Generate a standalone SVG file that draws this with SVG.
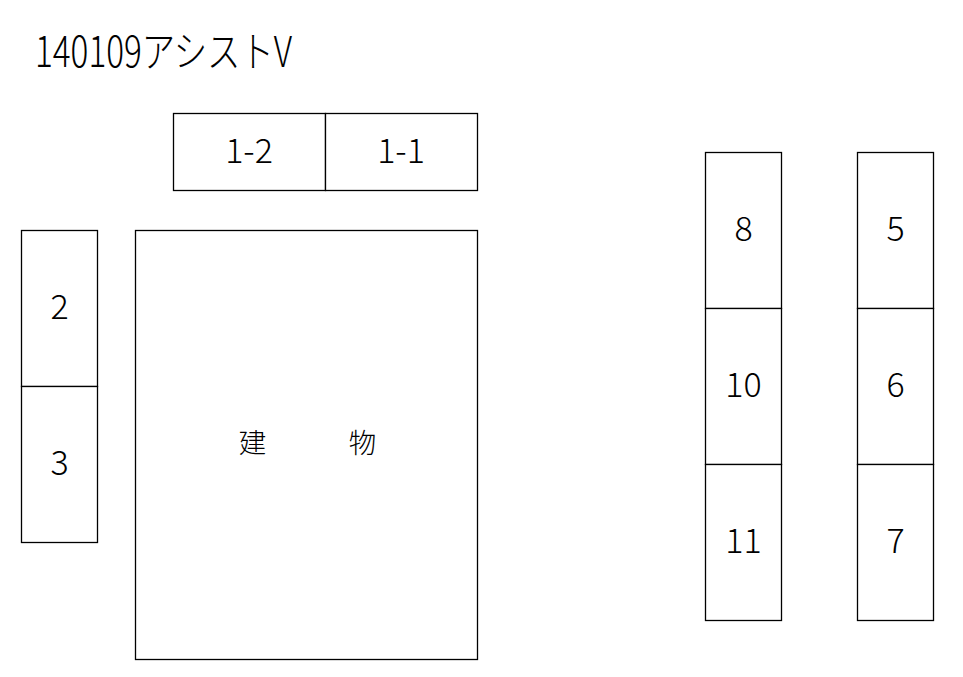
<svg xmlns="http://www.w3.org/2000/svg" width="963" height="677" viewBox="0 0 963 677">
<style>
.b{fill:#fff;stroke:#000;stroke-width:1.3}
.t{font-family:"Noto Sans CJK JP","Liberation Sans",sans-serif;font-weight:300;font-size:34px;fill:#000;text-anchor:middle}
.c{font-family:"Noto Sans CJK JP",sans-serif;font-size:27.5px;fill:#000;text-anchor:middle;font-weight:300}
</style>
<rect width="963" height="677" fill="#fff"/>
<text x="35" y="67" font-family="Noto Sans CJK JP, sans-serif" font-weight="300" font-size="42" textLength="257" lengthAdjust="spacingAndGlyphs">140109アシストV</text>
<g id="n1-2"><rect class="b" x="173.5" y="113.5" width="152" height="77"/><text class="t" x="249" y="163">1-2</text></g>
<g id="n1-1"><rect class="b" x="325.5" y="113.5" width="152" height="77"/><text class="t" x="401" y="163">1-1</text></g>
<g id="building"><rect class="b" x="135.5" y="230.5" width="342" height="429"/><text class="c" x="307.5" y="453">建　　　物</text></g>
<g id="n2"><rect class="b" x="21.5" y="230.5" width="76" height="156"/><text class="t" x="59.5" y="319">2</text></g>
<g id="n3"><rect class="b" x="21.5" y="386.5" width="76" height="156"/><text class="t" x="59.5" y="475">3</text></g>
<g id="n8"><rect class="b" x="705.5" y="152.5" width="76" height="156"/><text class="t" x="743.5" y="241">8</text></g>
<g id="n10"><rect class="b" x="705.5" y="308.5" width="76" height="156"/><text class="t" x="743.5" y="397">10</text></g>
<g id="n11"><rect class="b" x="705.5" y="464.5" width="76" height="156"/><text class="t" x="743.5" y="553">11</text></g>
<g id="n5"><rect class="b" x="857.5" y="152.5" width="76" height="156"/><text class="t" x="895.5" y="241">5</text></g>
<g id="n6"><rect class="b" x="857.5" y="308.5" width="76" height="156"/><text class="t" x="895.5" y="397">6</text></g>
<g id="n7"><rect class="b" x="857.5" y="464.5" width="76" height="156"/><text class="t" x="895.5" y="553">7</text></g>
<g id="connectors"/>
</svg>
